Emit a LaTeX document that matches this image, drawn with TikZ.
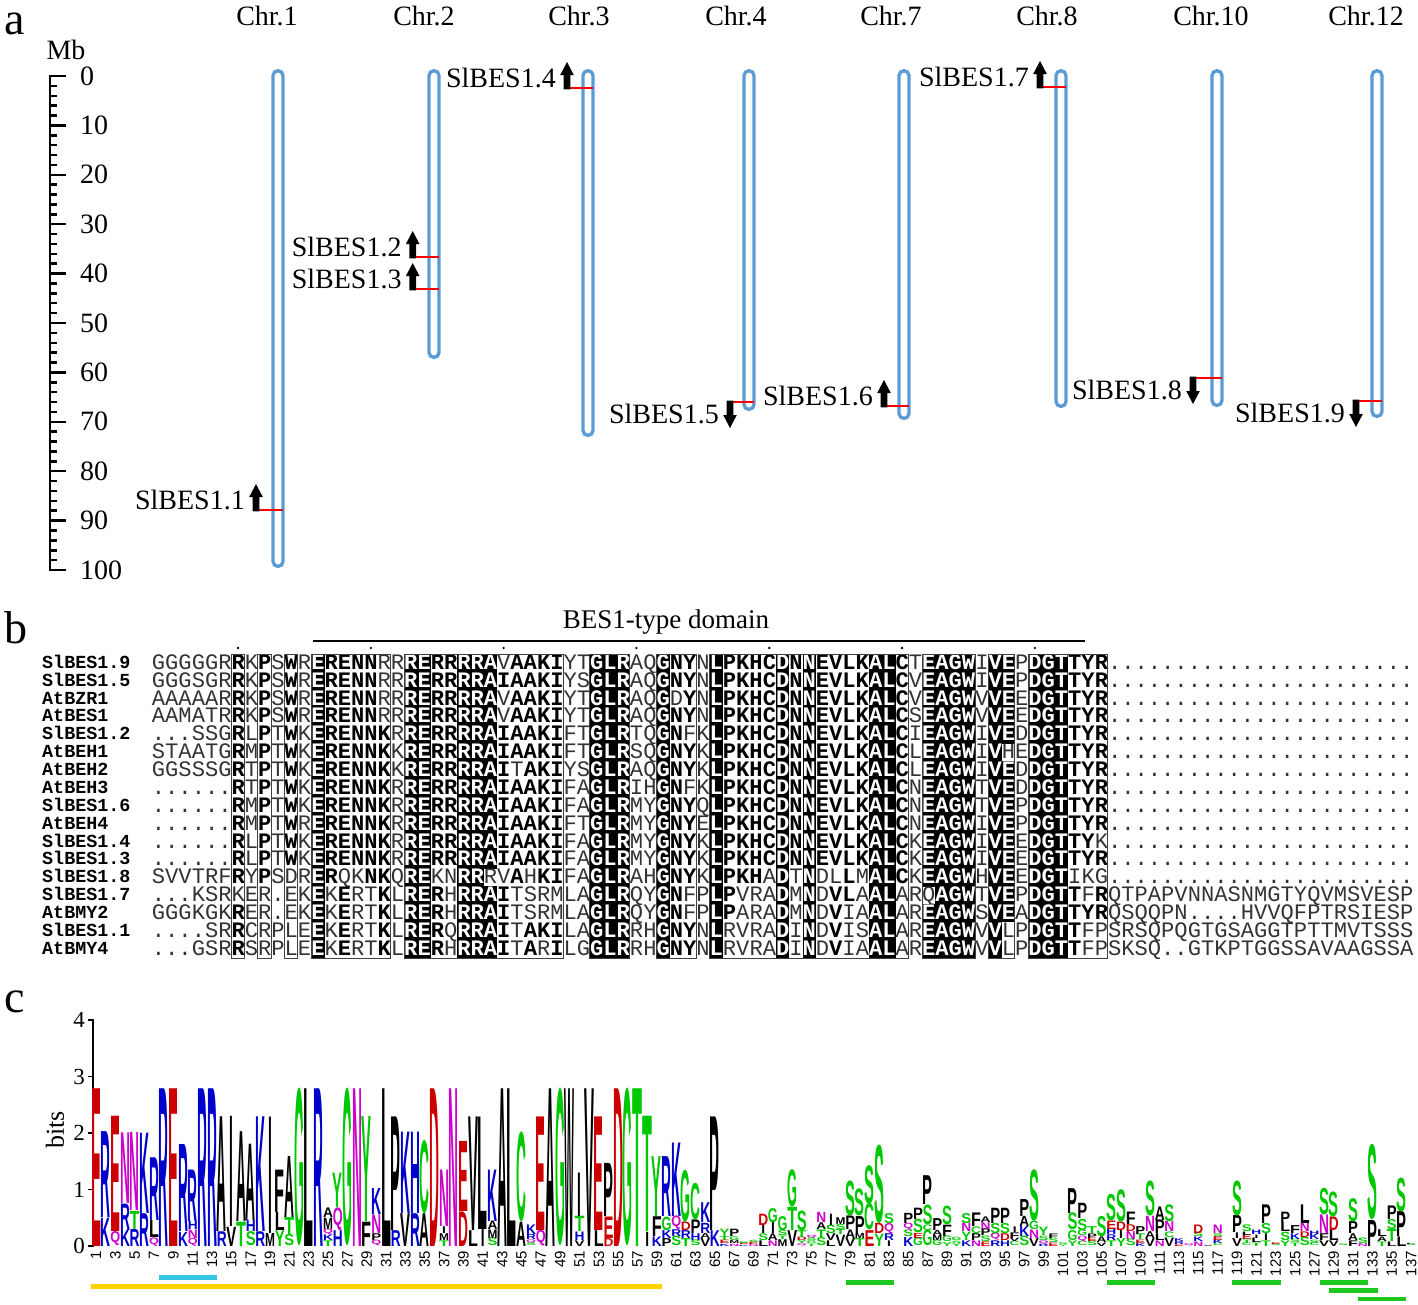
\documentclass[tikz,border=0pt]{standalone}
\usepackage{fontspec}
\setmainfont{Liberation Serif}
\newfontfamily\monof{Liberation Mono}
\newfontfamily\logof{Liberation Sans}
\usepackage{graphicx}
\definecolor{chrblue}{RGB}{91,155,213}
\definecolor{lred}{RGB}{204,0,0}
\definecolor{lblue}{RGB}{0,0,204}
\definecolor{lgreen}{RGB}{0,200,0}
\definecolor{lmag}{RGB}{204,0,204}
\definecolor{goldbar}{RGB}{255,210,0}
\definecolor{cyanbar}{RGB}{50,200,225}
\definecolor{greenbar}{RGB}{30,200,30}
\colorlet{lcA}{black}\colorlet{lcV}{black}\colorlet{lcL}{black}\colorlet{lcI}{black}
\colorlet{lcP}{black}\colorlet{lcW}{black}\colorlet{lcF}{black}\colorlet{lcM}{black}
\colorlet{lcG}{lgreen}\colorlet{lcS}{lgreen}\colorlet{lcT}{lgreen}\colorlet{lcY}{lgreen}\colorlet{lcC}{lgreen}
\colorlet{lcN}{lmag}\colorlet{lcQ}{lmag}
\colorlet{lcK}{lblue}\colorlet{lcR}{lblue}\colorlet{lcH}{lblue}
\colorlet{lcD}{lred}\colorlet{lcE}{lred}
\newcommand\bigf{\fontsize{28}{30}\selectfont}
\newcommand\panelf{\fontsize{46}{46}\selectfont}
\newcommand\domf{\fontsize{27}{28}\selectfont}
\newcommand\namef{\monof\bfseries\fontsize{18.4}{18.4}\selectfont}
\newcommand\seqthin{\monof\fontsize{22.1}{22.1}\selectfont\color{black!80}}
\newcommand\seqbold{\monof\bfseries\fontsize{22.1}{22.1}\selectfont}
\newcommand\logofont{\logof\bfseries\fontsize{30}{30}\selectfont}
\newcommand\ylabf{\fontsize{23}{23}\selectfont}
\newcommand\bitsf{\fontsize{26}{26}\selectfont}
\newcommand\posf{\logof\fontsize{15}{15}\selectfont}
% alignment cells
\def\tcell#1{\hbox to 13.28pt{\hss\seqthin#1\hss}}
\def\bcell#1{\hbox to 13.28pt{\hss\seqbold#1\hss}}
\def\kcell#1{\hbox to 13.28pt{\rlap{\rule[-2.7pt]{13.28pt}{18pt}}\hss\color{white}\seqbold#1\hss}}
\def\cell#1#2#3{\if#1#2\if k#3\kcell{#1}\else\if b#3\bcell{#1}\else\tcell{#1}\fi\fi\else\tcell{#1}\fi}
\def\pa#1#2\relax#3#4\relax#5#6\relax{\cell#1#3#5\ifx\relax#2\relax\else\pa#2\relax#4\relax#6\relax\fi}
\def\tdots{.....}
\def\trail{\tdots\tdots\tdots\tdots...}
\def\tn{nnnnn}
\def\consstr{...... R.P.W. ERENNK .RERRR RAIAAK I..GLR ..GNY. LPKHCD NNEVLK ALC.EA GW.VE. DGTTYR\trail\trail}
\def\typestr{nnnnnn bnbnbn kbbbbb nkkbbk kkbbbb bnnkkk nnkbbn kbbbbk bkbbbb kkbnkk kknkkn kkkbbb\tn\tn\tn\tn\tn\tn\tn\tn\tn}
\def\seqrow#1{\edef\tmpseq{\noexpand\pa#1\relax\consstr\relax\typestr\relax}\tmpseq}
\newcommand\alrow[3]{%
  \pgfmathsetmacro\ry{663+(#1-1)*17.875}%
  \node[namestyle] (nm#1) at (42,\ry+5.3) {#2};%
  \node[seqstyle] (sq#1) at (151.7,\ry+6.3) {\seqrow{#3}};}
% gene markers
\newcommand\gup[5]{%
  \draw[redline] (#2,#3) -- (#4+4.5,#3);
  \fill (#2-3.3,#3+1.3) -- (#2-3.3,#3-13) -- (#2-6.8,#3-13) -- (#2,#3-26) -- (#2+6.8,#3-13) -- (#2+3.3,#3-13) -- (#2+3.3,#3+1.3) -- cycle;
  \node[genelab, anchor=east] (#1) at (#2-11,#3-10) {#5};}
\newcommand\gdown[5]{%
  \draw[redline] (#2,#3) -- (#4+4.5,#3);
  \fill (#2-3.3,#3-1.3) -- (#2-3.3,#3+13) -- (#2-6.8,#3+13) -- (#2,#3+26) -- (#2+6.8,#3+13) -- (#2+3.3,#3+13) -- (#2+3.3,#3-1.3) -- cycle;
  \node[genelab, anchor=east] (#1) at (#2-11,#3+12) {#5};}
% logo stacks
\newcommand\stk[2]{%
  \pgfmathsetmacro\sx{96+(#1-1)*9.67}%
  \gdef\cum{0}%
  \foreach \L/\h in {#2}{%
    \pgfmathsetmacro\yb{1246-\cum*56.5}%
    \pgfmathsetmacro\hh{\h*56.5}%
    \if I\L\def\lw{3.8pt}\else\def\lw{9.9pt}\fi
    \edef\cc{lc\L}%
    \node[inner sep=0pt, outer sep=0pt, anchor=south] (s#1\L) at (\sx,\yb) {\textcolor{\cc}{\resizebox*{\lw}{\hh pt}{\logofont\L}}};%
    \pgfmathsetmacro\nc{\cum+\h}\global\let\cum\nc
  }}
\begin{document}
\begin{tikzpicture}[x=1pt,y=-1pt,
  chr/.style={draw=chrblue, line width=3.3pt, rounded corners=4.9pt},
  redline/.style={draw=red, line width=2.6pt},
  genelab/.style={inner sep=0pt, font=\bigf},
  chrlab/.style={inner sep=0pt, font=\bigf},
  axlab/.style={inner sep=0pt, font=\bigf},
  panellab/.style={inner sep=0pt, anchor=base west, font=\panelf},
  rtick/.style={line width=2.5pt},
  namestyle/.style={anchor=base west, inner sep=0pt, font=\namef},
  seqstyle/.style={anchor=base west, inner sep=0pt},
  boxline/.style={draw=black!75, line width=0.9pt},
  hbarstyle/.style={line width=4.5pt}]
\useasboundingbox (0,0) rectangle (1418,1304);
% ---------------- panel a
\node[panellab] (pa) at (4,34) {a};
\node[axlab] (mb) at (66,50) {Mb};
\draw[line width=2.6pt] (50,74.8) -- (50,571.2);
\foreach \v in {0,2,...,100}{%
  \pgfmathsetmacro\ty{76+\v*4.94}%
  \pgfmathtruncatemacro\mm{mod(\v,10)}%
  \ifnum\mm=0
    \draw[rtick] (48.7,\ty) -- (66,\ty);
    \node[axlab, anchor=west] (ax\v) at (80,\ty) {\v};
  \else
    \draw[rtick] (48.7,\ty) -- (57,\ty);
  \fi}
\foreach \n/\x/\b/\lx in {1/278/566.4/267, 2/434/357.4/424, 3/588/435.4/579, 4/749/409.4/736, 7/904/418.4/891, 8/1061/406.4/1047, 10/1217/405.4/1211, 12/1377/416.4/1366}{%
  \draw[chr] (\x-5,70.7) rectangle (\x+5,\b);
  \node[chrlab] (chr\n) at (\lx,16) {Chr.\n};}
\gup{g1}{256}{510}{278}{SlBES1.1}
\gup{g2}{412.7}{257}{434}{SlBES1.2}
\gup{g3}{412.7}{289}{434}{SlBES1.3}
\gup{g4}{567}{88}{588}{SlBES1.4}
\gdown{g5}{730}{402}{749}{SlBES1.5}
\gup{g6}{884}{406}{904}{SlBES1.6}
\gup{g7}{1040}{87}{1061}{SlBES1.7}
\gdown{g8}{1193}{378}{1217}{SlBES1.8}
\gdown{g9}{1356}{401}{1377}{SlBES1.9}
% ---------------- panel b
\node[panellab] (pb) at (4,643) {b};
\node[inner sep=0pt, font=\domf] (dom) at (666,622) {BES1-type domain};
\draw[line width=2pt] (313,641) -- (1085,641);
\foreach \c in {7,17,...,67}{\fill (151.7+\c*13.28-6.64,648) circle (1.3);}
\alrow{1}{SlBES1.9}{GGGGGR RKPSWR ERENNR RRERRR RAVAAK IYTGLR AQGNYN LPKHCD NNEVLK ALCTEA GWIVEP DGTTYR\trail}
\alrow{2}{SlBES1.5}{GGGSGR RKPSWR ERENNR RRERRR RAIAAK IYSGLR AQGNYN LPKHCD NNEVLK ALCVEA GWIVEP DGTTYR\trail}
\alrow{3}{AtBZR1}{AAAAAR RKPSWR ERENNR RRERRR RAVAAK IYTGLR AQGDYN LPKHCD NNEVLK ALCVEA GWVVEE DGTTYR\trail}
\alrow{4}{AtBES1}{AAMATR RKPSWR ERENNR RRERRR RAVAAK IYTGLR AQGNYN LPKHCD NNEVLK ALCSEA GWVVEE DGTTYR\trail}
\alrow{5}{SlBES1.2}{...SSG RLPTWK ERENNK RRERRR RAIAAK IFTGLR TQGNFK LPKHCD NNEVLK ALCIEA GWIVED DGTTYR\trail}
\alrow{6}{AtBEH1}{STAATG RMPTWK ERENNK KRERRR RAIAAK IFTGLR SQGNYK LPKHCD NNEVLK ALCLEA GWIVHE DGTTYR\trail}
\alrow{7}{AtBEH2}{GGSSSG RTPTWK ERENNK KRERRR RAITAK IYSGLR AQGNYK LPKHCD NNEVLK ALCLEA GWIVED DGTTYR\trail}
\alrow{8}{AtBEH3}{...... RTPTWK ERENNK RRERRR RAIAAK IFAGLR IHGNFK LPKHCD NNEVLK ALCNEA GWTVED DGTTYR\trail}
\alrow{9}{SlBES1.6}{...... RMPTWK ERENNK RRERRR RAIAAK IFAGLR MYGNYQ LPKHCD NNEVLK ALCNEA GWTVEP DGTTYR\trail}
\alrow{10}{AtBEH4}{...... RMPTWR ERENNK RRERRR RAIAAK IFTGLR MYGNYE LPKHCD NNEVLK ALCNEA GWIVEP DGTTYR\trail}
\alrow{11}{SlBES1.4}{...... RLPTWK ERENNK RRERRR RAIAAK IFAGLR MYGNYK LPKHCD NNEVLK ALCKEA GWIVEE DGTTYK\trail}
\alrow{12}{SlBES1.3}{...... RLPTWK ERENNK RRERRR RAIAAK IFAGLR MYGNYK LPKHCD NNEVLK ALCKEA GWIVEE DGTTYR\trail}
\alrow{13}{SlBES1.8}{SVVTRF RYPSDR ERQKNK QREKNR RRVAHK IFAGLR AHGNYK LPKHAD TNDLLM ALCKEA GWHVEE DGTIKG\trail}
\alrow{14}{SlBES1.7}{...KSR KER.EK EKERTK LRERHR RAITSR MLAGLR QYGNFP LPVRAD MNDVLA ALARQA GWTVEP DGTTFR QTPAPVNNASNMGTYQVMSVESP}
\alrow{15}{AtBMY2}{GGGKGK RER.EK EKERTK LRERHR RAITSR MLAGLR QYGNFP LPARAD MNDVIA ALAREA GWSVEA DGTTYR QSQQPN....HVVQFPTRSIESP}
\alrow{16}{SlBES1.1}{....SR RCRPLE EKERTK LRERQR RAITAK ILAGLR RHGNYN LRVRAD INDVIS ALAREA GWVVLP DGTTFP SRSQPQGTGSAGGTPTTMVTSSS}
\alrow{17}{AtBMY4}{...GSR RSRPLE EKERTK LRERHR RAITAR ILGGLR RHGNYN LRVRAD INDVIA ALAREA GWVVLP DGTTFP SKSQ..GTKPTGGSSAVAAGSSA}
\foreach \a/\b in {7/7,9/9,11/11,13/18,20/31,34/36,39/41,43/57,59/62,64/65,67/72}{%
  \draw[boxline] (151.7+\a*13.28-13.28,654) rectangle (151.7+\b*13.28,958);}
% ---------------- panel c
\node[panellab] (pc) at (4,1012) {c};
\draw[line width=1.2pt] (93,1246.6) -- (93,1019);
\foreach \b in {0,...,4}{%
  \pgfmathsetmacro\ty{1246-\b*56.5}%
  \draw[line width=1.2pt] (87.5,\ty) -- (93,\ty);
  \node[anchor=east, inner sep=0pt, font=\ylabf] (yb\b) at (85,\ty) {\b};}
\node[rotate=90, inner sep=0pt, font=\bitsf] (bits) at (55,1130) {bits};
\foreach \i in {1,3,...,137}{%
  \pgfmathsetmacro\px{96+(\i-1)*9.67}%
  \node[rotate=90, anchor=east, inner sep=0pt, font=\posf] (p\i) at (\px,1251) {\i};}
\stk{1}{E/2.79}
\stk{2}{K/0.5,R/1.52}
\stk{3}{Q/0.25,E/2.04}
\stk{4}{K/0.3,R/0.45,N/1.25}
\stk{5}{R/0.3,T/0.32,N/1.38}
\stk{6}{R/0.58,K/1.42}
\stk{7}{Q/0.15,L/0.3,R/1.11}
\stk{8}{R/2.79}
\stk{9}{E/2.79}
\stk{10}{K/0.25,R/1.54}
\stk{11}{Q/0.14,N/0.15,H/0.15,R/0.91}
\stk{12}{R/2.79}
\stk{13}{R/2.79}
\stk{14}{R/0.26,A/2.03}
\stk{15}{V/0.34,I/1.95}
\stk{16}{T/0.43,A/1.59}
\stk{17}{S/0.25,H/0.2,A/1.35}
\stk{18}{R/0.26,K/2.03}
\stk{19}{M/0.23,I/2.06}
\stk{20}{Y/0.28,L/0.32,F/0.75}
\stk{21}{S/0.2,T/0.3,A/1.08}
\stk{22}{G/2.79}
\stk{23}{L/2.79}
\stk{24}{R/2.79}
\stk{25}{T/0.1,K/0.1,Q/0.1,M/0.2,A/0.17}
\stk{26}{H/0.28,Q/0.4,Y/0.61}
\stk{27}{G/2.79}
\stk{28}{N/2.79}
\stk{29}{F/0.43,Y/1.86}
\stk{30}{Q/0.1,P/0.12,N/0.33,K/0.46}
\stk{31}{L/2.79}
\stk{32}{R/0.28,P/2.01}
\stk{33}{V/0.58,K/1.44}
\stk{34}{R/0.58,H/1.44}
\stk{35}{A/0.58,C/1.29}
\stk{36}{D/2.79}
\stk{37}{T/0.1,M/0.12,I/0.12,N/1.0}
\stk{38}{N/2.79}
\stk{39}{D/0.61,E/1.24}
\stk{40}{L/0.28,V/2.01}
\stk{41}{I/0.3,L/1.99}
\stk{42}{S/0.14,M/0.15,A/0.15,K/0.91}
\stk{43}{A/2.79}
\stk{44}{L/2.79}
\stk{45}{A/0.43,C/1.59}
\stk{46}{S/0.05,Q/0.06,R/0.09,K/0.17}
\stk{47}{Q/0.28,E/2.01}
\stk{48}{A/2.79}
\stk{49}{G/2.79}
\stk{50}{W/2.79}
\stk{51}{V/0.1,H/0.15,T/0.27,I/0.77}
\stk{52}{V/2.79}
\stk{53}{L/0.28,E/2.01}
\stk{54}{D/0.14,E/0.38,P/0.94}
\stk{55}{D/2.79}
\stk{56}{G/2.79}
\stk{57}{T/2.79}
\stk{58}{I/0.25,T/2.04}
\stk{59}{K/0.17,F/0.35,Y/1.06}
\stk{60}{P/0.14,K/0.14,G/0.24,R/1.06}
\stk{61}{S/0.17,R/0.12,Q/0.24,K/1.3}
\stk{62}{T/0.14,R/0.14,D/0.15,G/0.92}
\stk{63}{S/0.1,H/0.12,P/0.24,C/0.65}
\stk{64}{V/0.14,A/0.09,R/0.18,K/0.35}
\stk{65}{K/0.28,P/2.01}
\stk{66}{K/0.04,E/0.06,T/0.07,Y/0.13}
\stk{67}{N/0.04,M/0.05,G/0.07,P/0.13}
\stk{68}{K/0.02,E/0.03,S/0.03}
\stk{69}{N/0.03,E/0.04,S/0.04}
\stk{70}{L/0.1,S/0.12,I/0.15,D/0.2}
\stk{71}{N/0.1,A/0.12,I/0.2,G/0.25}
\stk{72}{M/0.12,T/0.06,S/0.09,G/0.25}
\stk{73}{V/0.28,T/0.41,G/0.66}
\stk{74}{Q/0.04,Y/0.05,D/0.06,T/0.12,S/0.35}
\stk{75}{T/0.04,G/0.05,S/0.05,Q/0.05}
\stk{76}{S/0.14,T/0.15,A/0.12,N/0.18}
\stk{77}{L/0.1,V/0.12,S/0.15,I/0.2}
\stk{78}{V/0.2,T/0.09,S/0.09,M/0.12}
\stk{79}{V/0.14,A/0.15,P/0.24,S/0.62}
\stk{80}{T/0.14,M/0.09,P/0.3,S/0.48}
\stk{81}{E/0.28,C/0.47,S/0.68}
\stk{82}{Y/0.22,D/0.18,S/1.39}
\stk{83}{I/0.1,R/0.12,Q/0.18,S/0.18}
\stk{85}{K/0.16,S/0.12,Q/0.12,P/0.18}
\stk{86}{G/0.14,E/0.09,S/0.24,P/0.2}
\stk{87}{G/0.28,C/0.1,S/0.35,P/0.51}
\stk{88}{G/0.1,M/0.09,A/0.09,P/0.21}
\stk{89}{Y/0.07,G/0.1,F/0.2,S/0.33}
\stk{90}{Y/0.05,S/0.04,G/0.06}
\stk{91}{K/0.1,Y/0.15,N/0.15,S/0.18}
\stk{92}{N/0.1,P/0.12,C/0.12,F/0.24}
\stk{93}{E/0.08,S/0.1,P/0.12,N/0.12,A/0.1}
\stk{94}{R/0.1,Q/0.12,S/0.18,P/0.27}
\stk{95}{H/0.1,D/0.12,S/0.18,P/0.27}
\stk{96}{C/0.08,V/0.06,F/0.1,I/0.1}
\stk{97}{S/0.17,K/0.18,A/0.18,P/0.3}
\stk{98}{V/0.14,N/0.15,G/0.15,S/0.91}
\stk{99}{R/0.04,Q/0.06,S/0.08,Y/0.15}
\stk{100}{E/0.06,S/0.08,F/0.08}
\stk{101}{Y/0.03,S/0.03}
\stk{102}{Y/0.1,G/0.18,S/0.3,P/0.44}
\stk{103}{C/0.08,Q/0.1,G/0.1,S/0.2,P/0.27}
\stk{104}{S/0.08,E/0.06,P/0.08,T/0.12}
\stk{105}{V/0.06,A/0.1,S/0.36}
\stk{106}{T/0.1,R/0.1,H/0.1,E/0.15,S/0.47}
\stk{107}{Y/0.14,I/0.14,D/0.15,S/0.57}
\stk{108}{S/0.12,N/0.14,D/0.12,F/0.22}
\stk{109}{K/0.05,E/0.06,T/0.1,P/0.14}
\stk{110}{V/0.14,A/0.12,N/0.27,S/0.62}
\stk{111}{N/0.1,L/0.12,P/0.24,A/0.24}
\stk{112}{V/0.15,C/0.1,N/0.18,S/0.3}
\stk{113}{E/0.03,R/0.05,K/0.05}
\stk{114}{Q/0.04}
\stk{115}{N/0.08,K/0.08,S/0.07,D/0.15}
\stk{116}{V/0.02}
\stk{117}{C/0.04,K/0.06,E/0.07,S/0.05,N/0.15}
\stk{119}{V/0.14,I/0.1,P/0.3,S/0.62}
\stk{120}{C/0.05,T/0.06,E/0.08,L/0.06,S/0.12}
\stk{121}{T/0.06,L/0.08,I/0.06,H/0.08}
\stk{122}{T/0.1,I/0.12,S/0.18,P/0.33}
\stk{123}{S/0.03,E/0.03}
\stk{124}{Y/0.1,S/0.15,L/0.15,P/0.2}
\stk{125}{T/0.06,S/0.06,K/0.1,F/0.14}
\stk{126}{S/0.15,D/0.1,N/0.15,L/0.33}
\stk{127}{C/0.05,S/0.06,K/0.1,H/0.06}
\stk{128}{V/0.1,F/0.12,N/0.33,S/0.47}
\stk{129}{V/0.1,L/0.18,D/0.24,S/0.44}
\stk{130}{S/0.03}
\stk{131}{F/0.1,A/0.12,P/0.21,S/0.41}
\stk{132}{N/0.05,S/0.1}
\stk{133}{P/0.46,S/1.33}
\stk{134}{T/0.08,A/0.08,L/0.12}
\stk{135}{L/0.08,T/0.21,S/0.18,P/0.24}
\stk{136}{L/0.17,P/0.44,S/0.6}
\stk{137}{S/0.03,L/0.02}
\draw[hbarstyle, goldbar] (91.2,1286.7) -- (661.7,1286.7);
\draw[hbarstyle, cyanbar] (158.9,1277.3) -- (216.8,1277.3);
\draw[hbarstyle, greenbar] (845.5,1282.7) -- (893.7,1282.7);
\draw[hbarstyle, greenbar] (1106.5,1282.7) -- (1154.8,1282.7);
\draw[hbarstyle, greenbar] (1232.3,1282.7) -- (1280.9,1282.7);
\draw[hbarstyle, greenbar] (1319.6,1282.7) -- (1367.9,1282.7);
\draw[hbarstyle, greenbar] (1329.3,1290.7) -- (1377.6,1290.7);
\draw[hbarstyle, greenbar] (1358.3,1299) -- (1406.3,1299);
\end{tikzpicture}
\end{document}
